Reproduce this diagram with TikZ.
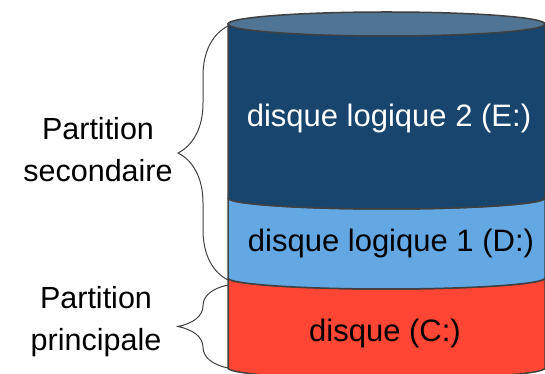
\documentclass[tikz,border=0pt]{standalone}
\usepackage{fontspec}
\setmainfont{Liberation Sans}
\usepackage{tikz}
\usetikzlibrary{decorations.pathreplacing}
\definecolor{diskdark}{RGB}{23, 69, 110}
\definecolor{disktop}{RGB}{80, 116, 148}
\definecolor{disklight}{RGB}{99, 168, 226}
\definecolor{diskred}{RGB}{255, 69, 51}
\definecolor{rimgray}{RGB}{64, 64, 64}
\newcommand{\rx}{158.5}
\newcommand{\ry}{11}

\begin{document}
\begin{tikzpicture}[x=1pt, y=1pt,
    rim/.style={draw=rimgray, line width=1.5pt},
    parttext/.style={font=\fontsize{30.5}{42}\selectfont, align=center},
    disktext/.style={font=\fontsize{31}{36}\selectfont},
    bracket/.style={draw=rimgray, line width=1pt, decorate,
        decoration={brace, amplitude=50pt}}]
    \clip (0,0) rectangle (545,374);
    % corners of the three slices
    \coordinate (top) at (228,350);
    \coordinate (mid) at (228,176);
    \coordinate (low) at (228,96);
    \coordinate (base) at (228,6);
    % disque (C:)
    \filldraw[rim, fill=diskred] (low) -- (base)
        arc[start angle=180, end angle=360, x radius=\rx, y radius=\ry]
        -- (545,96) arc[start angle=0, end angle=-180, x radius=\rx, y radius=\ry];
    % disque logique 1
    \filldraw[rim, fill=disklight] (mid) -- (low)
        arc[start angle=180, end angle=360, x radius=\rx, y radius=\ry]
        -- (545,176) arc[start angle=0, end angle=-180, x radius=\rx, y radius=\ry];
    % disque logique 2
    \filldraw[rim, fill=diskdark] (top) -- (mid)
        arc[start angle=180, end angle=360, x radius=\rx, y radius=\ry]
        -- (545,350) -- cycle;
    \filldraw[rim, fill=disktop] (386.5,350) ellipse[x radius=\rx, y radius=12];
    \node[disktext, text=white] (lv2) at (389,256) {disque logique 2 (E:)};
    \node[disktext] (lv1) at (391,131) {disque logique 1 (D:)};
    \node[disktext] (prim) at (385,41) {disque (C:)};
    % braces
    \draw[bracket] (low) ++(0,-2) -- ([yshift=-2pt]top);
    \draw[bracket] (base) -- ([yshift=-7pt]low);
    \node[parttext] (sec) at (98,224) {Partition\\secondaire};
    \node[parttext] (pri) at (96,52) {Partition\\principale};
\end{tikzpicture}
\end{document}
